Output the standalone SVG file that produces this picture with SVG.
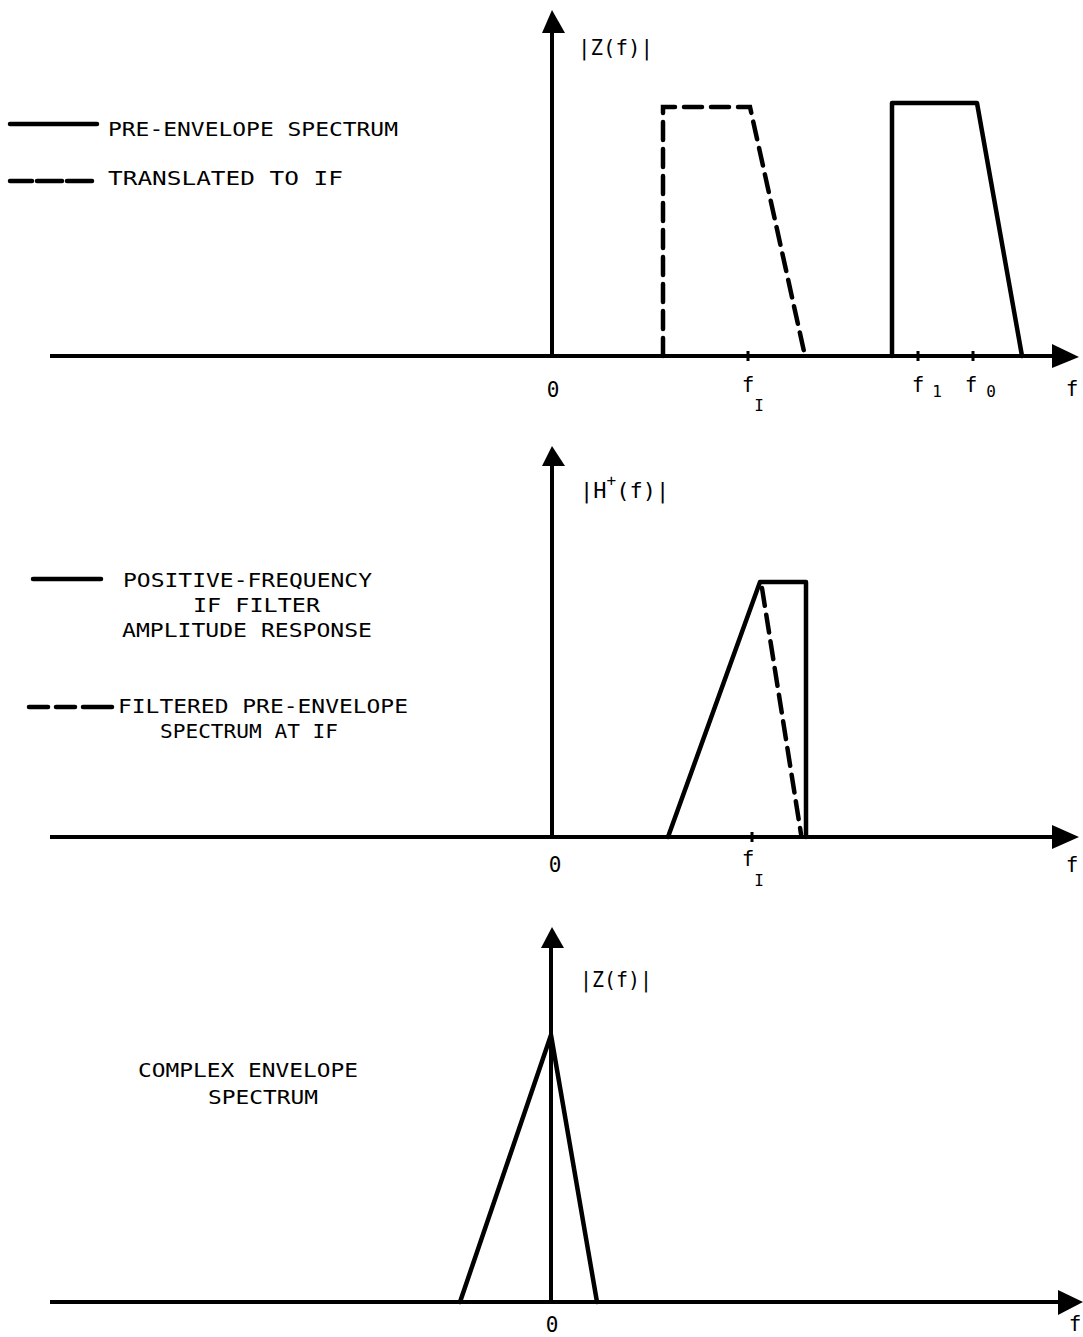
<svg xmlns="http://www.w3.org/2000/svg" width="1083" height="1337" viewBox="0 0 1083 1337">
<style>
.ax{stroke:#000;stroke-width:4;fill:none}
.sol{stroke:#000;stroke-width:4.5;fill:none;stroke-linejoin:round;stroke-linecap:round}
.dsh{stroke:#000;stroke-width:4.5;fill:none;stroke-dasharray:18 9;stroke-linecap:round}
.tk{stroke:#000;stroke-width:3}
.ah{fill:#000}
text{font-family:"DejaVu Sans Mono","Liberation Mono",monospace;fill:#000;font-size:20px}
.lb{font-size:21px}
.al{font-size:22px}
.sub{font-size:16px}
</style>
<rect width="1083" height="1337" fill="#fff"/>

<g id="panel-top-axes">
<line class="ax" x1="50" y1="356" x2="1056" y2="356"/>
<polygon class="ah" points="1052,344 1079,357 1052,368"/>
<line class="ax" x1="552" y1="356" x2="552" y2="30"/>
<polygon class="ah" points="542,33 552,10 565,33"/>
<line class="tk" x1="748" y1="351" x2="748" y2="361"/>
<line class="tk" x1="918" y1="351" x2="918" y2="361"/>
<line class="tk" x1="973" y1="351" x2="973" y2="361"/>
<text class="al" x="578" y="55" textLength="75" lengthAdjust="spacingAndGlyphs">|Z(f)|</text>
<text class="lb" x="553" y="397" text-anchor="middle">0</text>
<text class="lb" x="748" y="392" text-anchor="middle">f</text>
<text class="sub" x="759" y="411" text-anchor="middle">I</text>
<text class="lb" x="918" y="392" text-anchor="middle">f</text>
<text class="sub" x="937" y="397" text-anchor="middle">1</text>
<text class="lb" x="971" y="392" text-anchor="middle">f</text>
<text class="sub" x="991" y="397" text-anchor="middle">0</text>
<text class="lb" x="1072" y="396" text-anchor="middle">f</text>
</g>

<g id="legend-pre-envelope">
<line class="sol" x1="10" y1="124" x2="97" y2="124"/>
<text x="108" y="136" textLength="290" lengthAdjust="spacingAndGlyphs">PRE-ENVELOPE SPECTRUM</text>
</g>
<g id="legend-translated">
<line class="sol" x1="10" y1="181" x2="32" y2="181"/>
<line class="sol" x1="37" y1="181" x2="62" y2="181"/>
<line class="sol" x1="67" y1="181" x2="92" y2="181"/>
<text x="108" y="185" textLength="235" lengthAdjust="spacingAndGlyphs">TRANSLATED TO IF</text>
</g>

<g id="spectrum-translated">
<polyline class="dsh" points="663,356 663,107 750,107 805,356"/>
</g>
<g id="spectrum-pre-envelope">
<polyline class="sol" points="892,356 892,103 977,103 1022,356"/>
</g>

<g id="panel-middle-axes">
<line class="ax" x1="50" y1="837" x2="1056" y2="837"/>
<polygon class="ah" points="1052,825 1079,837 1052,849"/>
<line class="ax" x1="552" y1="837" x2="552" y2="462"/>
<polygon class="ah" points="542,466 552,446 565,466"/>
<line class="tk" x1="752" y1="832" x2="752" y2="842"/>
<text class="al" x="580" y="498">|H<tspan font-size="16" dy="-12">+</tspan><tspan dy="12">(f)|</tspan></text>
<text class="lb" x="555" y="872" text-anchor="middle">0</text>
<text class="lb" x="748" y="866" text-anchor="middle">f</text>
<text class="sub" x="759" y="886" text-anchor="middle">I</text>
<text class="lb" x="1072" y="872" text-anchor="middle">f</text>
</g>

<g id="legend-filter">
<line class="sol" x1="33" y1="579" x2="101" y2="579"/>
<text x="123" y="587" textLength="249" lengthAdjust="spacingAndGlyphs">POSITIVE-FREQUENCY</text>
<text x="193" y="612" textLength="127" lengthAdjust="spacingAndGlyphs">IF FILTER</text>
<text x="122" y="637" textLength="250" lengthAdjust="spacingAndGlyphs">AMPLITUDE RESPONSE</text>
</g>
<g id="legend-filtered">
<line class="sol" x1="29" y1="707" x2="48" y2="707"/>
<line class="sol" x1="56" y1="707" x2="75" y2="707"/>
<line class="sol" x1="83" y1="707" x2="112" y2="707"/>
<text x="118" y="713" textLength="290" lengthAdjust="spacingAndGlyphs">FILTERED PRE-ENVELOPE</text>
<text x="160" y="738" textLength="178" lengthAdjust="spacingAndGlyphs">SPECTRUM AT IF</text>
</g>

<g id="filter-response">
<polyline class="sol" points="668,837 760,582 806,582 806,837"/>
</g>
<g id="filtered-spectrum">
<line class="dsh" x1="762" y1="588" x2="801" y2="834"/>
</g>

<g id="panel-bottom-axes">
<line class="ax" x1="50" y1="1302" x2="1060" y2="1302"/>
<polygon class="ah" points="1058,1290 1083,1302 1058,1315"/>
<line class="ax" x1="551" y1="1302" x2="551" y2="945"/>
<polygon class="ah" points="541,948 552,927 564,948"/>
<text class="al" x="580" y="987" textLength="72" lengthAdjust="spacingAndGlyphs">|Z(f)|</text>
<text class="lb" x="552" y="1332" text-anchor="middle">0</text>
<text class="lb" x="1075" y="1331" text-anchor="middle">f</text>
</g>

<g id="legend-complex">
<text x="138" y="1077" textLength="220" lengthAdjust="spacingAndGlyphs">COMPLEX ENVELOPE</text>
<text x="208" y="1104" textLength="110" lengthAdjust="spacingAndGlyphs">SPECTRUM</text>
</g>

<g id="complex-envelope">
<polyline class="sol" points="460,1302 551,1035 597,1302"/>
</g>
</svg>
